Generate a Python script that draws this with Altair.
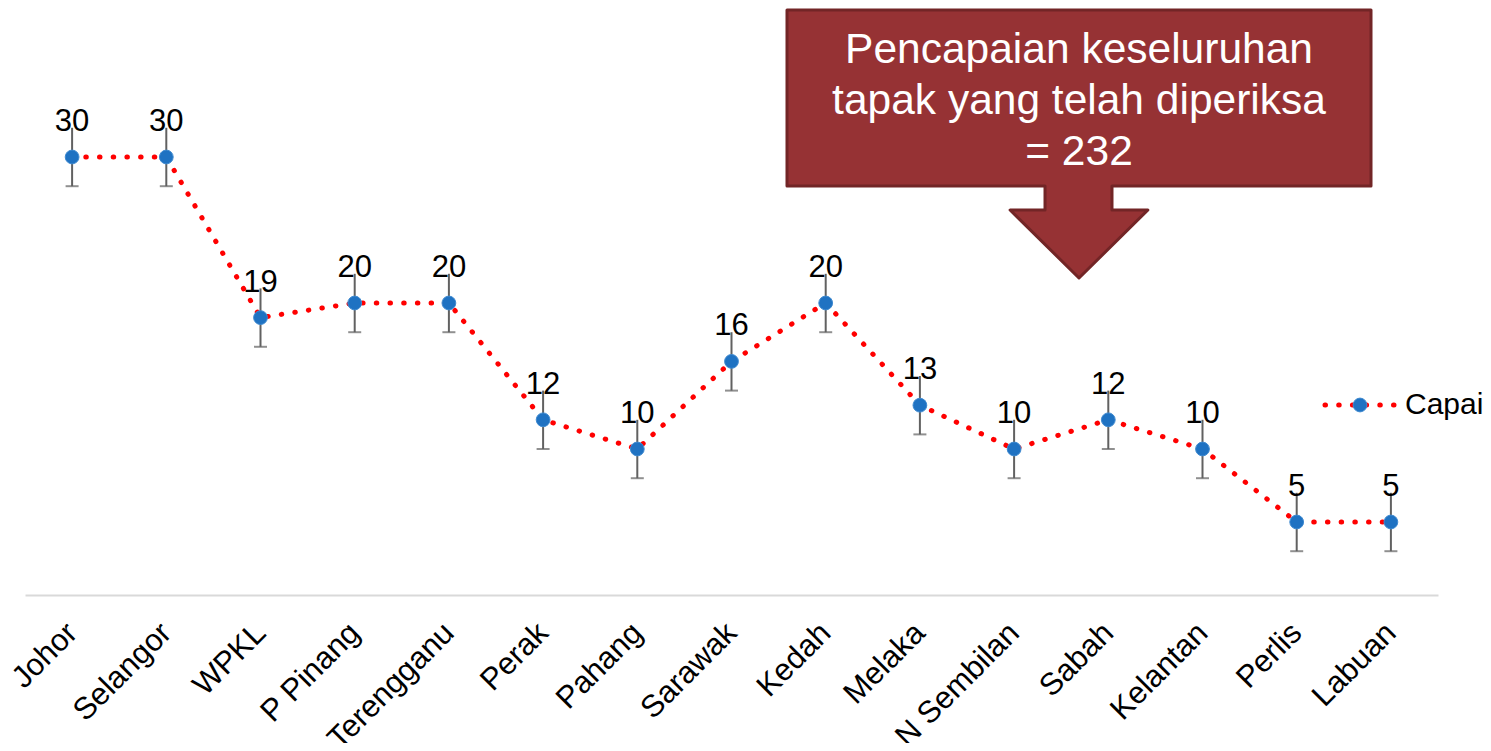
import altair as alt
import pandas as pd

states = ["Johor", "Selangor", "WPKL", "P Pinang", "Terengganu", "Perak", "Pahang",
          "Sarawak", "Kedah", "Melaka", "N Sembilan", "Sabah", "Kelantan", "Perlis", "Labuan"]
capai = [30, 30, 19, 20, 20, 12, 10, 16, 20, 13, 10, 12, 10, 5, 5]
errors = [2] * 15
series_name = "Capai"
callout_lines = ["Pencapaian keseluruhan", "tapak yang telah diperiksa", "= 232"]

df = pd.DataFrame({"state": states, "value": capai, "err": errors})
df["lo"] = df["value"] - df["err"]
df["hi"] = df["value"] + df["err"]

FONT = "Liberation Sans"
W, H = 1413, 584

x = alt.X("state:N", sort=states,
          scale=alt.Scale(type="point", padding=0.5),
          axis=alt.Axis(title=None, labelAngle=-45, labelAlign="right", labelBaseline="middle",
                        labelFontSize=31, labelColor="#000000", labelPadding=33,
                        ticks=False, domainColor="#d9d9d9", domainWidth=2, labelFont=FONT))
y = alt.Y("value:Q", scale=alt.Scale(domain=[0, 40]), axis=None)

base = alt.Chart(df)

err_rule = base.mark_rule(color="#616161", strokeWidth=2).encode(
    x=x, y=alt.Y("lo:Q", scale=alt.Scale(domain=[0, 40]), axis=None), y2="hi:Q")
err_cap = base.mark_tick(color="#616161", thickness=2, size=13, orient="horizontal").encode(
    x=x, y=alt.Y("lo:Q", scale=alt.Scale(domain=[0, 40]), axis=None))

line = base.mark_line(color="#ff0000", strokeWidth=5, strokeDash=[0.5, 13.2], strokeCap="round").encode(
    x=x, y=y)
points = base.mark_point(filled=True, size=190, color="#1f72c2", opacity=1,
                         stroke="#3f8ad0", strokeWidth=1).encode(x=x, y=y)
labels = base.mark_text(fontSize=31, font=FONT, color="#000000", dy=-35, baseline="middle").encode(
    x=x, y=y, text="value:Q")

# callout shape (box + down arrow), unit path scaled by symbol size
path = ("M -1 -0.4589 L 1 -0.4589 L 1 0.1438 L 0.113 0.1438 L 0.113 0.226 L 0.236 0.226 "
        "L 0 0.4589 L -0.236 0.226 L -0.1164 0.226 L -0.1164 0.1438 L -1 0.1438 Z")
callout_df = pd.DataFrame({"t": [callout_lines]})
callout = alt.Chart(callout_df).mark_point(
    shape=path, size=584 ** 2, filled=True, fill="#963234", stroke="#722526",
    strokeWidth=3, strokeJoin="round", opacity=1
).encode(x=alt.value(1054), y=alt.value(133))
callout_text = alt.Chart(callout_df).mark_text(
    fontSize=42.5, font=FONT, color="#ffffff", lineHeight=51, align="center", baseline="middle"
).encode(x=alt.value(1054), y=alt.value(39), text="t")

leg_df = pd.DataFrame({"name": [series_name]})
leg_line = alt.Chart(leg_df).mark_rule(color="#ff0000", strokeWidth=5, strokeDash=[0.5, 13.2],
                                       strokeCap="round").encode(
    x=alt.value(1300), x2=alt.value(1372), y=alt.value(394))
leg_pt = alt.Chart(leg_df).mark_point(filled=True, size=190, color="#1f72c2", opacity=1,
                                      stroke="#3f8ad0", strokeWidth=1).encode(
    x=alt.value(1335), y=alt.value(394))
leg_text = alt.Chart(leg_df).mark_text(fontSize=30, font=FONT, color="#000000", align="left",
                                       baseline="middle").encode(
    x=alt.value(1380), y=alt.value(394), text="name:N")

chart = alt.layer(err_rule, err_cap, line, points, labels, callout, callout_text,
                  leg_line, leg_pt, leg_text).properties(
    width=W, height=H,
    autosize=alt.AutoSizeParams(type="none"),
    padding={"left": 17, "top": 3, "right": 45, "bottom": 148},
).configure(font=FONT).configure_view(strokeWidth=0, stroke="transparent")

chart.save("out.html", embed_options={"renderer": "svg", "actions": False})
